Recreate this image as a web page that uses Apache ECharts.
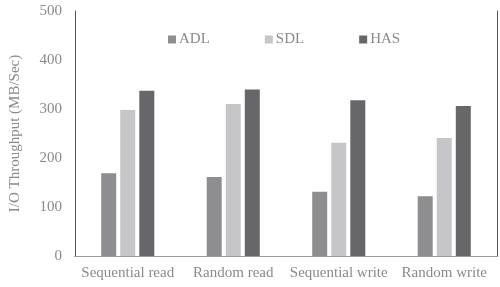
<!DOCTYPE html>
<html>
<head>
<meta charset="utf-8">
<script src="https://cdn.jsdelivr.net/npm/echarts@6/dist/echarts.min.js"></script>
<style>
    html, body { margin: 0; padding: 0; background: #fff; }
    #app { width: 500px; height: 287px; }
</style>
</head>
<body>
<div id="app"></div>
<script>
    var categories = ['Sequential read', 'Random read', 'Sequential write', 'Random write'];
    var adl = [169, 161, 131, 122];
    var sdl = [298, 310, 231, 241];
    var has = [337, 340, 318, 306];
    var yTicks = [0, 100, 200, 300, 400, 500];

    var font = 'Liberation Serif';
    var textColor = '#8a8a8a';

    function bar(name, data, color) {
        return {
            name: name,
            type: 'bar',
            data: data,
            barWidth: 15,
            barGap: '27%',
            itemStyle: {color: color},
            xAxisIndex: 0,
            yAxisIndex: 0
        };
    }

    var myChart = echarts.init(document.getElementById('app'));
    myChart.setOption({
        animation: false,
        textStyle: {fontFamily: font},
        legend: {
            top: 32,
            left: 168,
            itemGap: 55,
            itemWidth: 8,
            itemHeight: 8,
            icon: 'rect',
            padding: 0,
            textStyle: {fontFamily: font, fontSize: 15, color: textColor, padding: [0, 0, 0, -2]},
            data: ['ADL', 'SDL', 'HAS']
        },
        grid: {left: 70, right: 3, top: 11, bottom: 31},
        xAxis: [{
            type: 'category',
            data: categories,
            axisLine: {lineStyle: {color: '#555', width: 1}},
            axisTick: {show: false},
            axisLabel: {interval: 0, fontFamily: font, fontSize: 15, color: textColor, margin: 10}
        }, {
            type: 'category',
            position: 'top',
            data: categories,
            axisLine: {lineStyle: {color: '#999', width: 1}},
            axisTick: {show: false},
            axisLabel: {show: false}
        }],
        yAxis: [{
            type: 'value',
            min: yTicks[0],
            max: yTicks[yTicks.length - 1],
            interval: 100,
            name: 'I/O Throughput (MB/Sec)',
            nameLocation: 'middle',
            nameGap: 52,
            nameTextStyle: {fontFamily: font, fontSize: 15, color: textColor},
            axisLine: {show: true, lineStyle: {color: '#555', width: 1}},
            axisTick: {show: false},
            splitLine: {show: false},
            axisLabel: {fontFamily: font, fontSize: 15, color: textColor, margin: 13}
        }, {
            type: 'value',
            position: 'right',
            min: 0,
            max: 500,
            interval: 100,
            axisLine: {show: true, lineStyle: {color: '#555', width: 1}},
            axisTick: {show: false},
            splitLine: {show: false},
            axisLabel: {show: false}
        }],
        series: [
            bar('ADL', adl, '#8e8e90'),
            bar('SDL', sdl, '#c6c6c8'),
            bar('HAS', has, '#67676a')
        ]
    });
</script>
</body>
</html>
